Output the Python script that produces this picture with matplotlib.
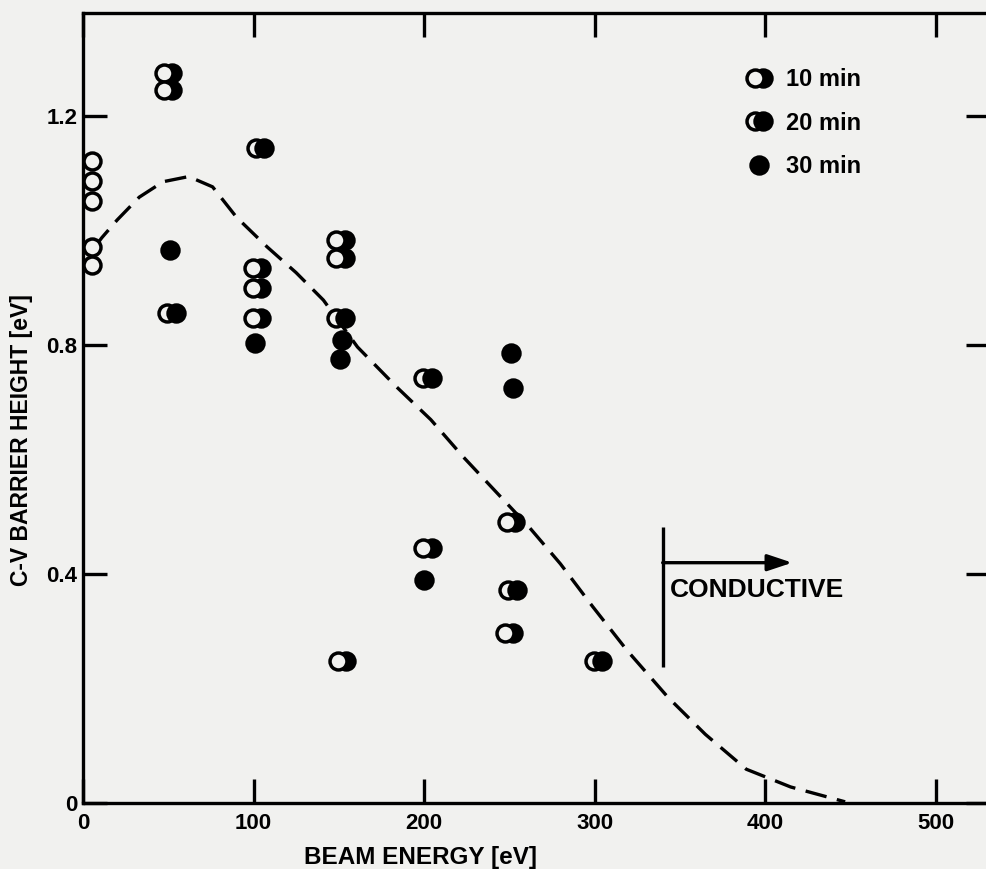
import matplotlib
matplotlib.use("Agg")
import matplotlib.pyplot as plt
from matplotlib.lines import Line2D
from matplotlib.legend_handler import HandlerBase
from matplotlib.transforms import offset_copy

plt.rcParams['font.family'] = ['Liberation Sans', 'DejaVu Sans']
plt.rcParams['font.weight'] = 'bold'

# unirradiated reference points (plain open circles at ~0 eV)
ref_x = [5, 5, 5, 5, 5]
ref_y = [1.122, 1.087, 1.052, 0.972, 0.941]

# 10 min (open circle in front)
t10_x = [50, 50, 102, 102, 102, 151, 151, 152, 202, 251, 250]
t10_y = [1.276, 1.246, 0.935, 0.900, 0.848, 0.984, 0.953, 0.248, 0.445, 0.491, 0.297]

# 20 min (filled circle in front)
t20_x = [52, 104, 151, 202, 252, 302]
t20_y = [0.857, 1.145, 0.848, 0.743, 0.372, 0.248]

# 30 min (filled)
t30_x = [51, 101, 152, 151, 200, 251, 252]
t30_y = [0.967, 0.804, 0.809, 0.776, 0.390, 0.787, 0.726]

# dashed guide curve
curve_x = [7, 11, 20, 33, 47, 62, 76, 90, 108, 125, 141, 161, 184, 204, 223,
           245, 262, 280, 299, 319, 343, 365, 389, 415, 447]
curve_y = [0.972, 0.988, 1.019, 1.059, 1.086, 1.095, 1.077, 1.024, 0.972, 0.927,
           0.879, 0.797, 0.727, 0.670, 0.605, 0.535, 0.481, 0.418, 0.343, 0.267,
           0.185, 0.120, 0.059, 0.028, 0.002]

# "conductive" threshold marker
cond_x = 340
cond_span = (0.238, 0.483)
cond_arrow_end = 416
cond_arrow_y = 0.420
cond_text_y = 0.372

xticks = [0, 100, 200, 300, 400, 500]
yticks = [0, 0.4, 0.8, 1.2]
ytick_labels = ['0', '0.4', '0.8', '1.2']

BG = '#f1f1ef'
MS = 12.2
MEW = 2.5
SHIFT = 3.0  # points, half distance between the two circles of a pair


class PairHandler(HandlerBase):
    def __init__(self, front):
        super().__init__()
        self.front = front

    def create_artists(self, legend, orig_handle, xdescent, ydescent,
                       width, height, fontsize, trans):
        cx = width / 2 - xdescent
        cy = height / 2 - ydescent
        ring = Line2D([cx - SHIFT], [cy], ls='none', marker='o', ms=MS,
                      mfc=BG, mec='k', mew=MEW)
        disc = Line2D([cx + SHIFT], [cy], ls='none', marker='o', ms=MS,
                      mfc='k', mec='k', mew=MEW)
        arts = [disc, ring] if self.front == 'open' else [ring, disc]
        for a in arts:
            a.set_transform(trans)
        return arts


fig = plt.figure(figsize=(9.87, 8.69), dpi=100, facecolor=BG)
ax = fig.add_axes([0.0841, 0.0760, 0.919, 0.9091], facecolor=BG)

left = offset_copy(ax.transData, fig=fig, x=-SHIFT, y=0, units='points')
right = offset_copy(ax.transData, fig=fig, x=SHIFT, y=0, units='points')

ax.plot(curve_x, curve_y, color='k', lw=2.4, dashes=(6.5, 3.2), zorder=2)

ax.plot(ref_x, ref_y, ls='none', marker='o', ms=MS, mfc=BG, mec='k', mew=MEW, zorder=3)

# 10 min: disc behind, ring on top
ax.plot(t10_x, t10_y, ls='none', marker='o', ms=MS, mfc='k', mec='k', mew=MEW,
        transform=right, zorder=3)
ax.plot(t10_x, t10_y, ls='none', marker='o', ms=MS, mfc=BG, mec='k', mew=MEW,
        transform=left, zorder=4)

# 20 min: ring behind, disc on top
ax.plot(t20_x, t20_y, ls='none', marker='o', ms=MS, mfc=BG, mec='k', mew=MEW,
        transform=left, zorder=3)
ax.plot(t20_x, t20_y, ls='none', marker='o', ms=MS, mfc='k', mec='k', mew=MEW,
        transform=right, zorder=4)

ax.plot(t30_x, t30_y, ls='none', marker='o', ms=MS, mfc='k', mec='k', mew=MEW, zorder=4)

# conductive region
ax.vlines(cond_x, cond_span[0], cond_span[1], color='k', lw=2.4)
ax.annotate('', xy=(cond_arrow_end, cond_arrow_y), xytext=(cond_x, cond_arrow_y),
            arrowprops=dict(arrowstyle='-|>,head_length=0.6,head_width=0.2',
                            color='k', lw=2.4, mutation_scale=25,
                            shrinkA=0, shrinkB=0))
ax.text(cond_x + 4, cond_text_y, 'CONDUCTIVE', fontsize=19, fontweight='bold',
        ha='left', va='center')

ax.set_xlim(0, 532)
ax.set_ylim(0, 1.381)
ax.set_xticks(xticks)
ax.set_xticklabels([str(v) for v in xticks])
ax.set_yticks(yticks)
ax.set_yticklabels(ytick_labels)
ax.tick_params(direction='in', length=17, width=2.4, top=True, right=True,
               labelsize=16)
ax.tick_params(axis='x', pad=7)
ax.tick_params(axis='y', pad=4)
for s in ax.spines.values():
    s.set_linewidth(2.4)

ax.set_xlabel('BEAM ENERGY [eV]', fontsize=17.5, fontweight='bold')
ax.xaxis.set_label_coords(0.372, -0.054)
ax.set_ylabel('C-V BARRIER HEIGHT [eV]', fontsize=16.5, fontweight='bold')
ax.yaxis.set_label_coords(-0.055, 0.4595)

h10 = Line2D([], [])
h20 = Line2D([], [])
h30 = Line2D([], [], ls='none', marker='o', ms=MS, mfc='k', mec='k', mew=MEW)
ax.legend([h10, h20, h30], ['10 min', '20 min', '30 min'],
          handler_map={h10: PairHandler('open'), h20: PairHandler('filled')},
          loc='upper left', bbox_to_anchor=(0.7548, 0.9215),
          bbox_transform=fig.transFigure, frameon=False, borderpad=0,
          borderaxespad=0, handlelength=1.2, handletextpad=0.55,
          labelspacing=0.86, prop={'size': 17, 'weight': 'bold'})

fig.savefig('out.png', dpi=100, facecolor=BG)
